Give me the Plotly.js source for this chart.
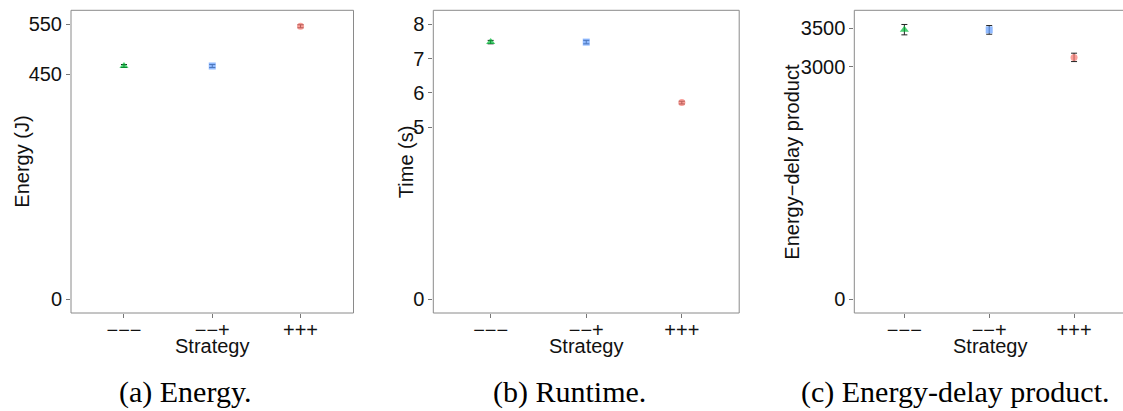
<!DOCTYPE html>
<html>
<head>
<meta charset="utf-8">
<script src="https://cdn.plot.ly/plotly-3.0.1.min.js"></script>
<style>html,body{margin:0;padding:0;background:#fff;}#chart{width:1123px;height:411px;}</style>
</head>
<body>
<div id="chart"></div>
<script>
// ---- data ----
var strategies = ['\u2212\u2212\u2212', '\u2212\u2212+', '+++'];
var energy = [466.5, 466.5, 546];
var energyErr = [3, 3, 3];
var runtime = [7.48, 7.48, 5.72];
var runtimeErr = [0.05, 0.05, 0.04];
var edp = [3481, 3478, 3123];
var edpErr = [67, 56, 54];
var energyTicks = [0, 450, 550];
var runtimeTicks = [0, 5, 6, 7, 8];
var edpTicks = [0, 3000, 3500];
var colors = ['#00BA38', '#619CFF', '#F8766D'];
var symbols = ['triangle-up', 'square', 'circle'];
var yTitles = ['Energy (J)', 'Time (s)', 'Energy\u2212delay product'];
var captions = ['(a) Energy.', '(b) Runtime.', '(c) Energy-delay product.'];

var W = 1123, H = 411;
function px(x) { return x / W; }
function py(y) { return 1 - y / H; }

// panel geometry (pixels)
var panels = [
  {l: 71, r: 353.5, xr: [-0.6, 2.6]},
  {l: 433.3, r: 739.2, xr: [-0.6, 2.6]},
  {l: 854.3, r: 1123, xr: [-0.59, 2.577]}
];
var plotTop = 10.3, plotBottom = 313;
var yRanges = [[-27.5, 577.9], [-0.40, 8.405], [-177.7, 3731]];
var yData = [energy, runtime, edp];
var yErr = [energyErr, runtimeErr, edpErr];
var yTicks = [energyTicks, runtimeTicks, edpTicks];
var yTitleX = [22, 405.5, 792];
var capX = [184.5, 569.5, 955];

var traces = [], layout = {
  width: W, height: H, margin: {l: 0, r: 0, t: 0, b: 0},
  paper_bgcolor: '#fff', plot_bgcolor: '#fff', showlegend: false,
  font: {family: 'Liberation Sans, Arial, sans-serif', size: 20, color: '#111'},
  shapes: [], annotations: []
};

for (var i = 0; i < 3; i++) {
  var sfx = i === 0 ? '' : String(i + 1);
  traces.push({
    type: 'scatter', mode: 'markers',
    x: strategies, y: yData[i],
    xaxis: 'x' + sfx, yaxis: 'y' + sfx,
    marker: {color: colors, symbol: symbols, size: [8, 7, 7], line: {width: 0}},
    error_y: {type: 'data', array: yErr[i], visible: true, color: '#222', thickness: 1, width: 3},
    cliponaxis: false, hoverinfo: 'x+y'
  });
  var p = panels[i];
  layout['xaxis' + sfx] = {
    domain: [px(p.l), Math.min(1, px(p.r))], anchor: 'y' + sfx,
    type: 'category', range: p.xr, showgrid: false, zeroline: false, showline: false,
    ticks: 'outside', ticklen: 4, tickwidth: 1, tickcolor: '#777',
    ticklabelstandoff: -5,
    tickfont: {size: 20, color: '#111'}, fixedrange: true
  };
  layout['yaxis' + sfx] = {
    domain: [py(plotBottom), py(plotTop)], anchor: 'x' + sfx,
    range: yRanges[i], tickmode: 'array', tickvals: yTicks[i], ticktext: yTicks[i].map(String),
    showgrid: false, zeroline: false, showline: false,
    ticks: 'outside', ticklen: 4, tickwidth: 1, tickcolor: '#777',
    tickfont: {size: 20, color: '#111'}, fixedrange: true
  };
  layout.shapes.push({
    type: 'rect', xref: 'paper', yref: 'paper',
    x0: px(p.l), x1: px(i === 2 ? 1126 : p.r), y0: py(plotBottom), y1: py(plotTop),
    line: {color: '#8a8a8a', width: 1}, fillcolor: 'rgba(0,0,0,0)', layer: 'above'
  });
  layout.annotations.push({
    xref: 'paper', yref: 'paper', x: px(yTitleX[i]), y: py((plotTop + plotBottom) / 2),
    text: yTitles[i], textangle: -90, showarrow: false,
    xanchor: 'center', yanchor: 'middle', font: {size: 20, color: '#111'}
  });
  layout.annotations.push({
    xref: 'paper', yref: 'paper', x: px((p.l + (i === 2 ? 1125 : p.r)) / 2), y: py(346),
    text: 'Strategy', showarrow: false, xanchor: 'center', yanchor: 'middle',
    font: {size: 20, color: '#111'}
  });
  layout.annotations.push({
    xref: 'paper', yref: 'paper', x: px(capX[i]), y: py(392),
    text: captions[i], showarrow: false, xanchor: 'center', yanchor: 'middle',
    font: {family: 'Liberation Serif, Times New Roman, serif', size: 30, color: '#000'}
  });
}

Plotly.newPlot('chart', traces, layout, {displayModeBar: false, staticPlot: true});
</script>
</body>
</html>
